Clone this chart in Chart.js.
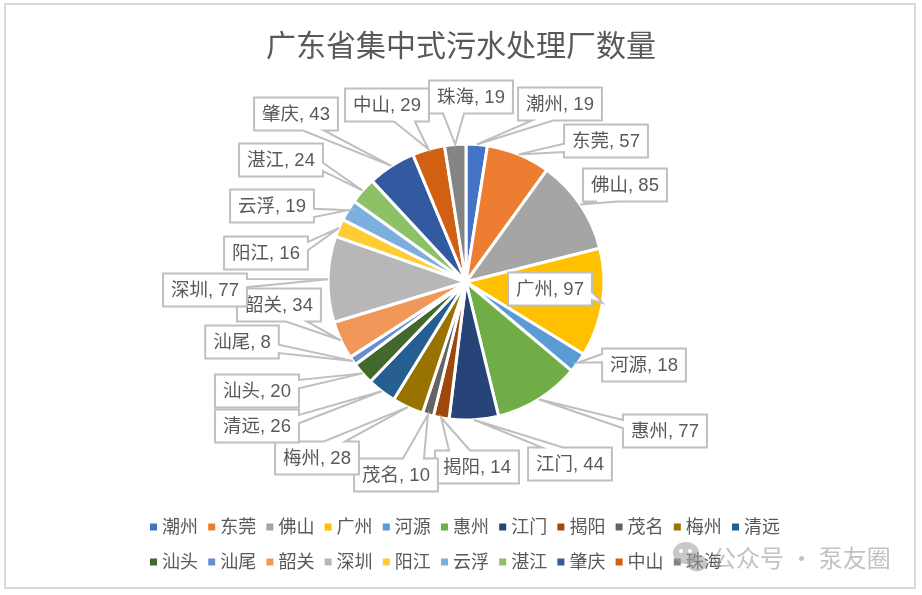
<!DOCTYPE html>
<html><head><meta charset="utf-8">
<script src="https://cdn.jsdelivr.net/npm/chart.js@4.4.1/dist/chart.umd.min.js"></script>
<style>
html,body{margin:0;padding:0;background:#fff;}
#wrap{position:relative;width:922px;height:595px;overflow:hidden;}
#frame{position:absolute;left:4px;top:3px;width:908px;height:582px;border:2px solid #d9d9d9;pointer-events:none;}
canvas{position:absolute;left:0;top:0;width:922px;height:595px;}
</style></head><body>
<div id="wrap"><div id="frame"></div><canvas id="c" width="922" height="595"></canvas></div>
<script>
const chartTitle = '广东省集中式污水处理厂数量';
const categories = ['潮州','东莞','佛山','广州','河源','惠州','江门','揭阳','茂名','梅州','清远','汕头','汕尾','韶关','深圳','阳江','云浮','湛江','肇庆','中山','珠海'];
const values = [19,57,85,97,18,77,44,14,10,28,26,20,8,34,77,16,19,24,43,29,19];
const colors = ['#4472C4','#ED7D31','#A5A5A5','#FFC000','#5B9BD5','#70AD47','#264478','#9E480E','#636363','#997300','#255E91','#43682B','#698ED0','#F1975A','#B7B7B7','#FFCD33','#7CAFDD','#8CC168','#335AA1','#D26012','#848484'];
// label box centres, relative to the pie centre (layout only)
const labelOffsets = [[94,-178],[140,-141],[159,-97],[84,7],[178,83],[199,149],[104,182],[11,185],[-70,193],[-149,176],[-209,144],[-209,109],[-224,60],[-187,23],[-261,8],[-200,-29],[-194,-76],[-185,-122],[-170,-168],[-79,-177],[5,-185]];
const watermark = '公众号 · 泵友圈';

const FONT = '"Liberation Sans","Noto Sans CJK SC",sans-serif';
const TXT = '#595959';

function calloutPath(ctx, l, t, w, h, px, py) {
  const cx = l + w / 2, cy = t + h / 2;
  const dx = px - cx, dy = py - cy;
  const dq = dx * h / w;
  const inside = px >= l && px <= l + w && py >= t && py <= t + h;
  let side = null;
  if (!inside) side = Math.abs(dy) > Math.abs(dq) ? (dy > 0 ? 'b' : 't') : (dx > 0 ? 'r' : 'l');
  const xa = l + w * (dx > 0 ? 7 : 2) / 12, xb = l + w * (dx > 0 ? 10 : 5) / 12;
  const ya = t + h * (dy > 0 ? 7 : 2) / 12, yb = t + h * (dy > 0 ? 10 : 5) / 12;
  ctx.beginPath();
  ctx.moveTo(l, t);
  if (side === 't') { ctx.lineTo(xa, t); ctx.lineTo(px, py); ctx.lineTo(xb, t); }
  ctx.lineTo(l + w, t);
  if (side === 'r') { ctx.lineTo(l + w, ya); ctx.lineTo(px, py); ctx.lineTo(l + w, yb); }
  ctx.lineTo(l + w, t + h);
  if (side === 'b') { ctx.lineTo(xb, t + h); ctx.lineTo(px, py); ctx.lineTo(xa, t + h); }
  ctx.lineTo(l, t + h);
  if (side === 'l') { ctx.lineTo(l, yb); ctx.lineTo(px, py); ctx.lineTo(l, ya); }
  ctx.closePath();
}

const decor = {
  id: 'decor',
  afterDatasetsDraw(chart) {
    const ctx = chart.ctx;
    const meta = chart.getDatasetMeta(0);
    ctx.save();
    ctx.font = '18.5px ' + FONT;
    ctx.textAlign = 'center';
    ctx.textBaseline = 'middle';
    meta.data.forEach((arc, i) => {
      const p = arc.getProps(['x', 'y', 'startAngle', 'endAngle', 'outerRadius'], true);
      const mid = (p.startAngle + p.endAngle) / 2;
      const tx = p.x + p.outerRadius * Math.cos(mid);
      const ty = p.y + p.outerRadius * Math.sin(mid);
      const text = chart.data.labels[i] + ', ' + chart.data.datasets[0].data[i];
      const w = ctx.measureText(text).width + 16, h = 33;
      const bx = p.x + labelOffsets[i][0], by = p.y + labelOffsets[i][1];
      calloutPath(ctx, bx - w / 2, by - h / 2, w, h, tx, ty);
      ctx.fillStyle = '#ffffff';
      ctx.fill();
      ctx.lineWidth = 2;
      ctx.strokeStyle = '#bfbfbf';
      ctx.lineJoin = 'miter';
      ctx.stroke();
      ctx.fillStyle = TXT;
      ctx.fillText(text, bx, by + 1);
    });
    ctx.restore();
  },
  afterDraw(chart) {
    const ctx = chart.ctx;
    ctx.save();
    ctx.fillStyle = TXT;
    ctx.font = '30px "Noto Sans CJK SC",sans-serif';
    ctx.textAlign = 'center';
    ctx.textBaseline = 'middle';
    ctx.fillText(chartTitle, 461, 45);
    ctx.font = '18px ' + FONT;
    ctx.textAlign = 'left';
    const cols = 11, colW = 58.2, x0 = 150, rowsY = [527, 562];
    chart.data.labels.forEach((lab, i) => {
      const r = Math.floor(i / cols), c = i % cols;
      const x = x0 + c * colW, y = rowsY[r];
      ctx.fillStyle = chart.data.datasets[0].backgroundColor[i];
      ctx.fillRect(x, y - 3.5, 7, 7);
      ctx.fillStyle = TXT;
      ctx.fillText(lab, x + 12, y + 1);
    });
    ctx.globalAlpha = 0.55;
    ctx.fillStyle = '#9a9a9a';
    ctx.beginPath(); ctx.ellipse(686, 553, 13, 11, 0, 0, Math.PI * 2); ctx.fill();
    ctx.beginPath(); ctx.ellipse(697, 563, 10, 8.5, 0, 0, Math.PI * 2); ctx.fill();
    ctx.globalAlpha = 1;
    ctx.fillStyle = '#ffffff';
    ctx.beginPath(); ctx.arc(681, 551, 2, 0, Math.PI * 2); ctx.fill();
    ctx.beginPath(); ctx.arc(690, 551, 2, 0, Math.PI * 2); ctx.fill();
    ctx.globalAlpha = 0.6;
    ctx.fillStyle = '#9a9a9a';
    ctx.font = '24px "Noto Sans CJK SC",sans-serif';
    ctx.textBaseline = 'middle';
    ctx.fillText(watermark, 712, 558);
    ctx.restore();
  }
};

new Chart(document.getElementById('c'), {
  type: 'pie',
  data: {
    labels: categories,
    datasets: [{
      data: values,
      backgroundColor: colors,
      borderColor: '#ffffff',
      borderWidth: 3,
      radius: 138
    }]
  },
  options: {
    responsive: false,
    animation: false,
    events: [],
    layout: { padding: { left: 15, right: 5, top: 0, bottom: 31 } },
    plugins: { legend: { display: false }, title: { display: false }, tooltip: { enabled: false } }
  },
  plugins: [decor]
});
</script>
</body></html>
